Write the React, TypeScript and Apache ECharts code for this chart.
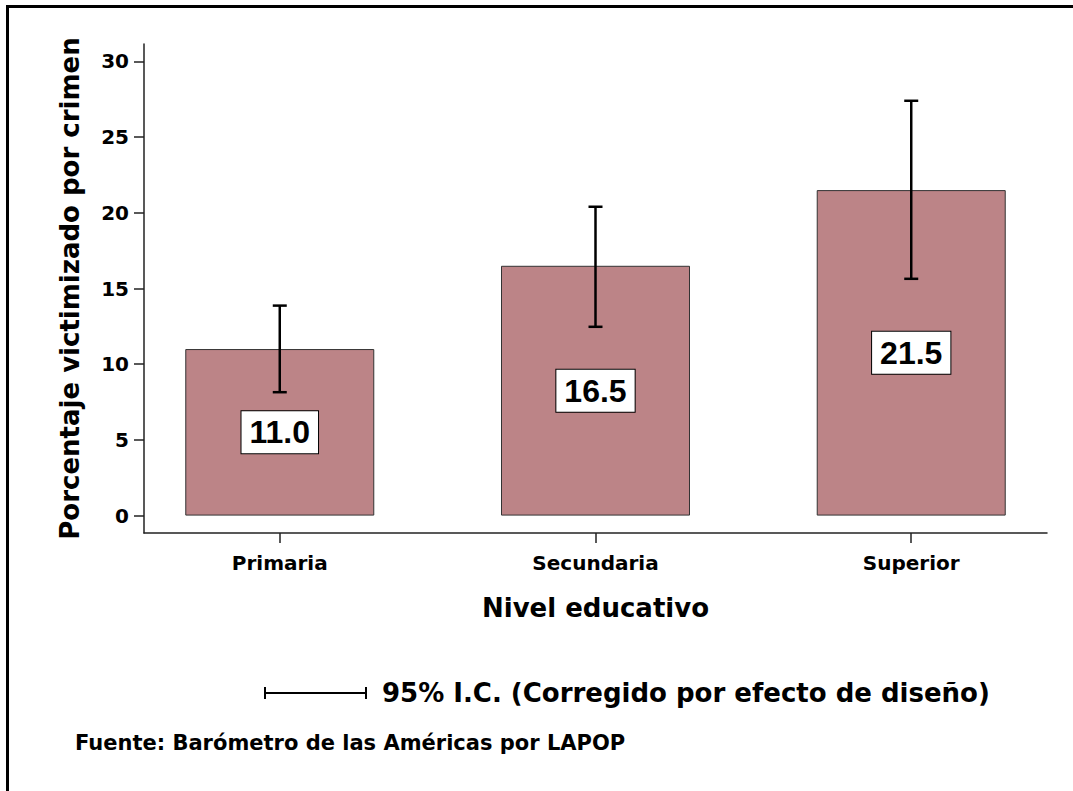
import React, { useEffect, useRef } from "react";
import * as echarts from "echarts";

const categories = ["Primaria", "Secundaria", "Superior"];
const values = [11.0, 16.5, 21.5];
const ciLow = [8.15, 12.47, 15.64];
const ciHigh = [13.87, 20.4, 27.4];
const yTicks = [0, 5, 10, 15, 20, 25, 30];
const yAxisTitle = "Porcentaje victimizado por crimen";
const xAxisTitle = "Nivel educativo";
const legendText = "95% I.C. (Corregido por efecto de diseño)";
const sourceText = "Fuente: Barómetro de las Américas por LAPOP";

const FONT = "'DejaVu Sans', sans-serif";

export default function App() {
  const ref = useRef<HTMLDivElement>(null);
  useEffect(() => {
    if (!ref.current) return;
    const chart = echarts.init(ref.current, null, { renderer: "svg" });
    const barData = values.map((v, i) => [i, v]);
    const errData = categories.map((_, i) => [i, ciLow[i], ciHigh[i]]);
    chart.setOption({
      animation: false,
      backgroundColor: "#ffffff",
      grid: { left: 144, top: 44, right: 26, bottom: 258 },
      xAxis: {
        type: "value",
        min: -0.43,
        max: 2.43,
        name: xAxisTitle,
        nameLocation: "middle",
        nameGap: 62,
        nameTextStyle: { fontFamily: FONT, fontWeight: "bold", fontSize: 26, color: "#000" },
        axisLine: { show: true, onZero: false, lineStyle: { color: "#222", width: 1.5 } },
        axisTick: { show: true, length: 10, customValues: [0, 1, 2], lineStyle: { color: "#222", width: 1.5 } },
        axisLabel: {
          customValues: [0, 1, 2],
          margin: 20,
          formatter: (v: number) => categories[Math.round(v)] ?? "",
          fontFamily: FONT,
          fontWeight: "bold",
          fontSize: 20,
          color: "#000",
        },
        splitLine: { show: false },
      },
      yAxis: {
        type: "value",
        min: -1.15,
        max: 31.15,
        name: yAxisTitle,
        nameLocation: "middle",
        nameGap: 61,
        nameTextStyle: { fontFamily: FONT, fontWeight: "bold", fontSize: 26, color: "#000" },
        axisLine: { show: true, onZero: false, lineStyle: { color: "#222", width: 1.5 } },
        axisTick: { show: true, length: 10, customValues: yTicks, lineStyle: { color: "#222", width: 1.5 } },
        axisLabel: {
          customValues: yTicks,
          margin: 15,
          fontFamily: FONT,
          fontWeight: "bold",
          fontSize: 20,
          color: "#000",
        },
        splitLine: { show: false },
      },
      series: [
        {
          type: "bar",
          data: barData,
          barWidth: 189,
          itemStyle: { color: "#bc8487", borderColor: "#333", borderWidth: 1 },
          label: {
            show: true,
            position: "inside",
            formatter: (p: any) => Number(p.value[1]).toFixed(1),
            fontFamily: "'Liberation Sans', Arial, sans-serif",
            fontWeight: "bold",
            fontSize: 32,
            color: "#000",
            backgroundColor: "#fff",
            borderColor: "#000",
            borderWidth: 1,
            padding: [6, 8, 4, 8],
          },
          z: 2,
        },
        {
          type: "custom",
          data: errData,
          z: 5,
          renderItem: (params: any, api: any) => {
            const x = api.value(0);
            const lo = api.coord([x, api.value(1)]);
            const hi = api.coord([x, api.value(2)]);
            const hw = 7;
            const style = { stroke: "#000", lineWidth: 2.5 };
            return {
              type: "group",
              children: [
                { type: "line", shape: { x1: lo[0], y1: lo[1], x2: hi[0], y2: hi[1] }, style },
                { type: "line", shape: { x1: hi[0] - hw, y1: hi[1], x2: hi[0] + hw, y2: hi[1] }, style },
                { type: "line", shape: { x1: lo[0] - hw, y1: lo[1], x2: lo[0] + hw, y2: lo[1] }, style },
              ],
            };
          },
        },
      ],
      graphic: [
        { type: "rect", shape: { x: 6, y: 5, width: 1067, height: 3 }, style: { fill: "#000" } },
        { type: "rect", shape: { x: 6, y: 5, width: 3, height: 786 }, style: { fill: "#000" } },
        { type: "line", shape: { x1: 265, y1: 693, x2: 366, y2: 693 }, style: { stroke: "#000", lineWidth: 2 } },
        { type: "line", shape: { x1: 265, y1: 687, x2: 265, y2: 699 }, style: { stroke: "#000", lineWidth: 2 } },
        { type: "line", shape: { x1: 366, y1: 687, x2: 366, y2: 699 }, style: { stroke: "#000", lineWidth: 2 } },
        {
          type: "text",
          x: 382,
          y: 693,
          style: { text: legendText, fontFamily: FONT, fontWeight: "bold", fontSize: 26, fill: "#000", verticalAlign: "middle" },
        },
        {
          type: "text",
          x: 75,
          y: 743,
          style: { text: sourceText, fontFamily: FONT, fontWeight: "bold", fontSize: 21, fill: "#000", verticalAlign: "middle" },
        },
      ],
    });
    return () => chart.dispose();
  }, []);
  return (
    <div
      ref={ref}
      style={{ position: "absolute", left: 0, top: 0, width: 1073, height: 791, background: "#fff" }}
    />
  );
}
